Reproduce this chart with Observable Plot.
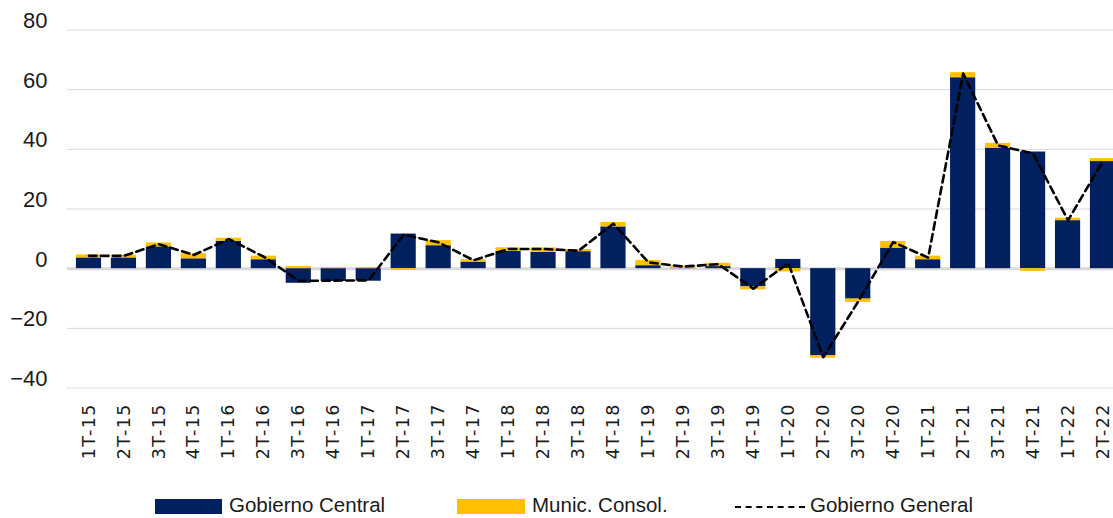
<!DOCTYPE html>
<html>
<head>
<meta charset="utf-8">
<script src="https://cdn.jsdelivr.net/npm/d3@7"></script>
<script src="https://cdn.jsdelivr.net/npm/@observablehq/plot@0.6"></script>
<style>
  html, body { margin: 0; padding: 0; background: #fff; }
  #wrap { position: relative; width: 1113px; height: 518px; overflow: hidden; }
  #chart svg { display: block; }
  g[aria-label="x-axis tick label"] text { letter-spacing: 1.5px; }
  #legend { position: absolute; left: 0; top: 480px; width: 1113px; height: 38px;
            font-family: "Liberation Sans", sans-serif; font-size: 20.5px; color: #1a1a1a; }
  .sw { position: absolute; top: 19px; height: 15px; }
  .lt { position: absolute; top: 13px; line-height: 24px; white-space: nowrap; }
  .dash { position: absolute; top: 26px; height: 0; border-top: 2.5px dashed #000; }
</style>
</head>
<body>
<div id="wrap">
  <div id="chart"></div>
  <div id="legend"></div>
</div>
<script>
const categories = ["1T-15","2T-15","3T-15","4T-15","1T-16","2T-16","3T-16","4T-16","1T-17","2T-17","3T-17","4T-17","1T-18","2T-18","3T-18","4T-18","1T-19","2T-19","3T-19","4T-19","1T-20","2T-20","3T-20","4T-20","1T-21","2T-21","3T-21","4T-21","1T-22","2T-22"];
const gobiernoCentral = [3.6, 3.6, 7.3, 3.3, 9.2, 3.0, -4.9, -4.3, -4.2, 11.6, 7.7, 2.2, 5.8, 5.5, 5.7, 14.0, 1.0, 0.1, 0.7, -6.1, 3.1, -29.1, -10.2, 6.9, 3.0, 64.0, 40.4, 39.1, 16.1, 35.9];
const municConsol = [1.0, 0.9, 1.3, 1.7, 1.0, 1.2, 0.7, 0.3, 0.4, -0.6, 1.7, 0.8, 1.2, 1.5, 0.7, 1.5, 1.7, 0.8, 1.1, -1.0, -1.1, -0.9, -1.1, 2.2, 1.2, 1.7, 1.6, -0.9, 0.8, 1.0];
const gobiernoGeneral = [4.3, 4.3, 8.2, 4.6, 9.9, 4.0, -4.1, -4.0, -3.9, 11.4, 8.8, 2.8, 6.6, 6.6, 6.0, 15.1, 2.1, 0.7, 1.5, -6.7, 1.8, -29.7, -11.0, 8.9, 3.7, 65.4, 41.3, 38.6, 16.2, 36.1];
const yTicks = [-40, -20, 0, 20, 40, 60, 80];
const seriesNames = ["Gobierno Central", "Munic. Consol.", "Gobierno General"];
const colors = ["#002060", "#FFC000", "#000000"];

const barRows = [];
categories.forEach((c, i) => {
  barRows.push({cat: c, series: seriesNames[0], value: gobiernoCentral[i]});
  barRows.push({cat: c, series: seriesNames[1], value: municConsol[i]});
});
const lineRows = categories.map((c, i) => ({cat: c, value: gobiernoGeneral[i]}));

const chart = Plot.plot({
  width: 1113,
  height: 480,
  marginLeft: 67,
  marginRight: 0,
  marginTop: 29.5,
  marginBottom: 92.5,
  style: {background: "#fff", color: "#1a1a1a"},
  x: {type: "band", domain: categories, range: [71, 1120], paddingInner: 0.28, paddingOuter: 0.14, round: false},
  y: {domain: [-40, 80], range: [387.5, 29.5]},
  color: {domain: seriesNames.slice(0, 2), range: colors.slice(0, 2)},
  marks: [
    Plot.ruleY(yTicks.filter(d => d !== 0), {stroke: "#d9d9d9", strokeWidth: 1}),
    Plot.ruleY([0], {stroke: "#d9d9d9", strokeWidth: 3}),
    Plot.barY(barRows, {x: "cat", y: "value", fill: "series", order: seriesNames.slice(0, 2)}),
    Plot.lineY(lineRows, {x: "cat", y: "value", stroke: "#000", strokeWidth: 2.6, strokeDasharray: "7.5,4.5"}),
    Plot.axisY(yTicks, {tickSize: 0, tickPadding: 20, dy: -9, fontSize: 22, fontFamily: "Liberation Sans, sans-serif", label: null}),
    Plot.axisX({tickSize: 0, tickRotate: -90, tickPadding: 15, fontSize: 17.5, fontFamily: "DejaVu Sans, sans-serif", label: null})
  ]
});
document.getElementById("chart").appendChild(chart);

const legend = document.getElementById("legend");
const items = [
  {kind: "sw", x: 155, w: 67, color: colors[0], tx: 229, label: seriesNames[0]},
  {kind: "sw", x: 457, w: 68, color: colors[1], tx: 532, label: seriesNames[1]},
  {kind: "dash", x: 735, w: 70, color: colors[2], tx: 810, label: seriesNames[2]}
];
items.forEach(it => {
  const s = document.createElement("div");
  s.className = it.kind;
  s.style.left = it.x + "px";
  s.style.width = it.w + "px";
  if (it.kind === "sw") s.style.background = it.color;
  legend.appendChild(s);
  const t = document.createElement("div");
  t.className = "lt";
  t.style.left = it.tx + "px";
  t.textContent = it.label;
  legend.appendChild(t);
});
</script>
</body>
</html>
